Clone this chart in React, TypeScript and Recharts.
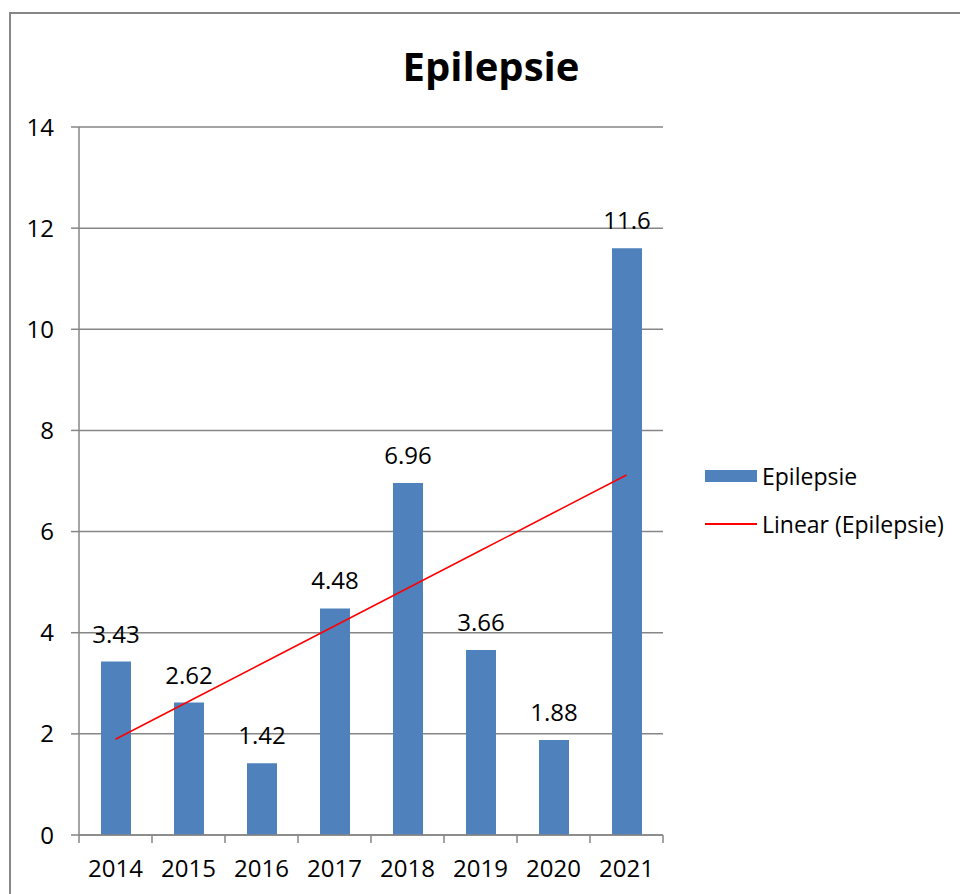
import {
  Bar,
  CartesianGrid,
  ComposedChart,
  LabelList,
  Legend,
  Line,
  XAxis,
  YAxis,
} from 'recharts'

const YEARS = ['2014', '2015', '2016', '2017', '2018', '2019', '2020', '2021']
const EPILEPSIE = [3.43, 2.62, 1.42, 4.48, 6.96, 3.66, 1.88, 11.6]
const Y_TICKS = [0, 2, 4, 6, 8, 10, 12, 14]

const FONT = '"Open Sans", "Noto Sans", sans-serif'
const AXIS_GREY = '#868686'
const BAR_BLUE = '#4F81BD'
const TREND_RED = '#FF0000'

/** least squares fit, like Excel's "Linear" trendline */
function linearTrend(values: number[]): number[] {
  const n = values.length
  const mx = (n - 1) / 2
  const my = values.reduce((a, b) => a + b, 0) / n
  let sxy = 0
  let sxx = 0
  values.forEach((v, i) => {
    sxy += (i - mx) * (v - my)
    sxx += (i - mx) * (i - mx)
  })
  const slope = sxy / sxx
  return values.map((_, i) => my + slope * (i - mx))
}

const trend = linearTrend(EPILEPSIE)
const data = YEARS.map((year, i) => ({
  year,
  value: EPILEPSIE[i],
  trend: trend[i],
}))

const PLOT_LEFT = 79
const PLOT_RIGHT = 663
const HALF_BAND = (PLOT_RIGHT - PLOT_LEFT) / YEARS.length / 2

function YearTick(props: any) {
  const { x, y, payload, index } = props
  return (
    <g>
      <line x1={x - HALF_BAND} x2={x - HALF_BAND} y1={y} y2={y + 8} stroke={AXIS_GREY} strokeWidth={1.5} />
      {index === YEARS.length - 1 ? (
        <line x1={x + HALF_BAND} x2={x + HALF_BAND} y1={y} y2={y + 8} stroke={AXIS_GREY} strokeWidth={1.5} />
      ) : null}
      <text x={x} y={y + 42} textAnchor="middle" fontSize={24} fontFamily={FONT} fill="#000">
        {payload.value}
      </text>
    </g>
  )
}

function LegendBox() {
  return (
    <div style={{ fontFamily: FONT, fontSize: 23, color: '#000', lineHeight: '30px' }}>
      <div style={{ display: 'flex', alignItems: 'center', height: 30 }}>
        <span style={{ width: 52, height: 12, background: BAR_BLUE, marginRight: 5 }} />
        Epilepsie
      </div>
      <div style={{ display: 'flex', alignItems: 'center', height: 30, marginTop: 18 }}>
        <span style={{ width: 52, height: 2, background: TREND_RED, marginRight: 5 }} />
        Linear (Epilepsie)
      </div>
    </div>
  )
}

export default function App() {
  return (
    <div
      style={{
        position: 'absolute',
        left: 0,
        top: 0,
        width: 960,
        height: 894,
        overflow: 'hidden',
        background: '#fff',
      }}
    >
      <div
        style={{
          position: 'absolute',
          left: 9,
          top: 12,
          width: 1000,
          height: 1000,
          border: `2px solid ${AXIS_GREY}`,
        }}
      />
      <div
        style={{
          position: 'absolute',
          left: 0,
          top: 38,
          width: 982,
          textAlign: 'center',
          fontFamily: FONT,
          fontWeight: 700,
          fontSize: 40,
          lineHeight: '56px',
        }}
      >
        Epilepsie
      </div>
      <div style={{ position: 'absolute', left: 0, top: 0 }}>
        <ComposedChart
          width={960}
          height={894}
          data={data}
          margin={{ top: 127, right: 960 - PLOT_RIGHT, bottom: 0, left: 0 }}
          barSize={30}
        >
          <CartesianGrid vertical={false} stroke={AXIS_GREY} strokeWidth={1.5} />
          <XAxis
            dataKey="year"
            height={59}
            tickLine={false}
            tickSize={0}
            tickMargin={0}
            axisLine={{ stroke: AXIS_GREY, strokeWidth: 1.5 }}
            tick={<YearTick />}
            interval={0}
          />
          <YAxis
            domain={[0, 14]}
            ticks={Y_TICKS}
            width={PLOT_LEFT}
            tickSize={8}
            tickMargin={17}
            tickLine={{ stroke: AXIS_GREY, strokeWidth: 1.5 }}
            axisLine={{ stroke: AXIS_GREY, strokeWidth: 1.5 }}
            tick={{ fill: '#000', fontSize: 24, fontFamily: FONT }}
          />
          <Legend
            layout="vertical"
            align="center"
            verticalAlign="middle"
            wrapperStyle={{ left: 705, top: 461, width: 255 }}
            content={() => <LegendBox />}
          />
          <Bar dataKey="value" name="Epilepsie" fill={BAR_BLUE} isAnimationActive={false}>
            <LabelList
              dataKey="value"
              position="top"
              offset={19}
              fill="#000"
              fontSize={24}
              fontFamily={FONT}
            />
          </Bar>
          <Line
            dataKey="trend"
            name="Linear (Epilepsie)"
            stroke={TREND_RED}
            strokeWidth={1.5}
            dot={false}
            activeDot={false}
            type="linear"
            isAnimationActive={false}
          />
        </ComposedChart>
      </div>
    </div>
  )
}
